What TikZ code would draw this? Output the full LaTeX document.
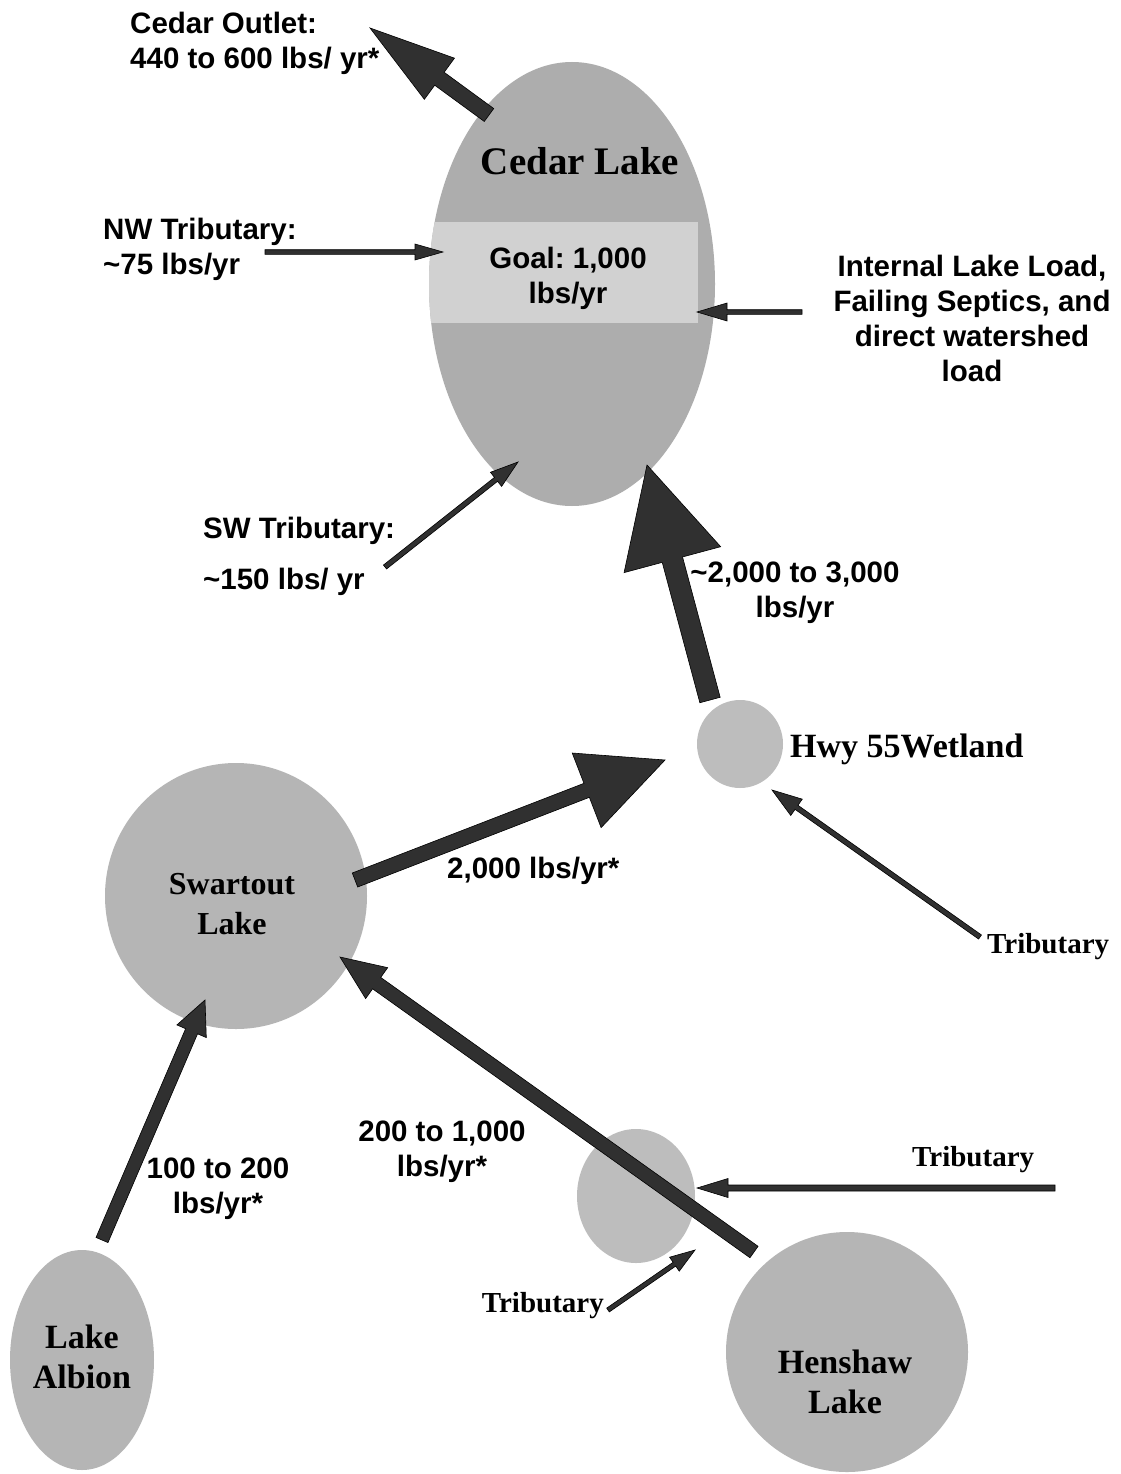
\documentclass[tikz,border=0pt]{standalone}
\usepackage{fontspec}
\setmainfont{Liberation Serif}
\newfontfamily\arialf{Liberation Sans}
\usetikzlibrary{calc,shapes.geometric}
\frenchspacing
\definecolor{lakegray}{gray}{0.71}
\definecolor{cedargray}{gray}{0.68}
\definecolor{bandgray}{gray}{0.82}
\definecolor{smallgray}{gray}{0.74}
\definecolor{arrowgray}{gray}{0.19}
\tikzset{
  lake/.style={ellipse, fill=lakegray, draw=none, inner sep=0pt, outer sep=0pt},
  sanslbl/.style={font=\arialf\bfseries\fontsize{29.5}{35}\selectfont, inner sep=0pt},
  seriflbl/.style={font=\bfseries\fontsize{34}{40}\selectfont, inner sep=0pt},
  triblbl/.style={font=\bfseries\fontsize{29}{35}\selectfont, inner sep=0pt},
  arrowbody/.style={fill=arrowgray, draw=black, line width=0.6pt, line join=miter},
}
% #1 tail, #2 tip, #3 half shaft width, #4 head length, #5 half head width
\newcommand{\blockarrow}[5]{%
  \coordinate (bab) at ($(#2)!#4!(#1)$);
  \filldraw[arrowbody] ($(#1)!#3!90:(#2)$) -- ($(bab)!#3!90:(#2)$) -- ($(bab)!#5!90:(#2)$) -- (#2)
     -- ($(bab)!#5!-90:(#2)$) -- ($(bab)!#3!-90:(#2)$) -- ($(#1)!#3!-90:(#2)$) -- cycle;
}
\begin{document}
\begin{tikzpicture}[x=1pt,y=-1pt]
\useasboundingbox (0,0) rectangle (1120,1474);
\fill[white] (0,0) rectangle (1120,1474);

% ---- lakes ----
\node[lake, fill=cedargray, minimum width=286pt, minimum height=444pt] (cedar) at (572,284) {};
\begin{scope}
  \clip (572,284) ellipse [x radius=143, y radius=222];
  \fill[bandgray] (420,222) rectangle (698,323);
\end{scope}
\node[lake, fill=smallgray, minimum width=86pt, minimum height=88pt] (hwy) at (740,744) {};
\node[lake, minimum width=262pt, minimum height=266pt] (swartout) at (236,896) {};
\node[lake, fill=smallgray, minimum width=118pt, minimum height=134pt] (small) at (636,1196) {};
\node[lake, minimum width=144pt, minimum height=220pt] (albion) at (82,1360) {};
\node[lake, minimum width=242pt, minimum height=240pt] (henshaw) at (847,1352) {};

% ---- lake labels ----
\node[seriflbl, font=\bfseries\fontsize{39}{45}\selectfont, anchor=base] (cedarlbl) at (580,175) {Cedar Lake};
\node[sanslbl, align=center, anchor=north] (goal) at (568,247) {Goal: 1,000\\lbs/yr};
\node[seriflbl, anchor=base west] (hwylbl) at (790,757) {Hwy 55Wetland};
\node[seriflbl, font=\bfseries\fontsize{32}{40}\selectfont, align=center, anchor=north] (swlbl) at (232,873) {Swartout\\Lake};
\node[seriflbl, align=center, anchor=north] (alblbl) at (82,1325) {Lake\\Albion};
\node[seriflbl, align=center, anchor=north] (henlbl) at (845,1350) {Henshaw\\Lake};

% ---- other labels ----
\node[sanslbl, align=left, anchor=north west] (outlbl) at (130,12) {Cedar Outlet:\\440 to 600 lbs/ yr*};
\node[sanslbl, align=left, anchor=north west] (nwlbl) at (103,218) {NW Tributary:\\\textasciitilde75 lbs/yr};
\node[sanslbl, align=center, anchor=north] (intlbl) at (972,255) {Internal Lake Load,\\Failing Septics, and\\direct watershed\\load};
\node[sanslbl, align=left, anchor=north west] (swtlbl) at (203,517) {SW Tributary:\\[16pt]\textasciitilde150 lbs/ yr};
\node[sanslbl, align=center, anchor=north] (biglbl) at (795,562) {\textasciitilde2,000 to 3,000\\lbs/yr};
\node[sanslbl, anchor=base west] (swhlbl) at (447,878) {2,000 lbs/yr*};
\node[sanslbl, align=center, anchor=north] (henslbl) at (442,1121) {200 to 1,000\\lbs/yr*};
\node[sanslbl, align=center, anchor=north] (alblbl2) at (218,1158) {100 to 200\\lbs/yr*};
\node[triblbl, anchor=base west] (trib1) at (987,953) {Tributary};
\node[triblbl, anchor=base west] (trib2) at (912,1166) {Tributary};
\node[triblbl, anchor=base east] (trib3) at (604,1312) {Tributary};

% ---- arrow end points ----
\coordinate (outT) at (489,115);   \coordinate (outH) at (370,28);
\coordinate (nwT) at (265,252);    \coordinate (nwH) at (443,252);
\coordinate (intT) at (802,312);   \coordinate (intH) at (697,312);
\coordinate (swT) at (385,567);    \coordinate (swH) at (518,462);
\coordinate (bigT) at (710,700);   \coordinate (bigH) at (647,465);
\coordinate (s2hT) at (355,880);   \coordinate (s2hH) at (665,760);
\coordinate (t1T) at (980,937);    \coordinate (t1H) at (772,790);
\coordinate (h2sT) at (754,1252);  \coordinate (h2sH) at (340,957);
\coordinate (a2sT) at (102,1240);  \coordinate (a2sH) at (205,1000);
\coordinate (t2T) at (1055,1188);  \coordinate (t2H) at (697,1188);
\coordinate (t3T) at (608,1310);   \coordinate (t3H) at (695,1250);

% ---- arrows ----
\blockarrow{outT}{outH}{8pt}{86pt}{25.5pt}
\blockarrow{nwT}{nwH}{2.3pt}{28pt}{8pt}
\blockarrow{intT}{intH}{2.3pt}{30pt}{9pt}
\blockarrow{swT}{swH}{2.5pt}{28pt}{9pt}
\blockarrow{bigT}{bigH}{10.5pt}{98pt}{50pt}
\blockarrow{s2hT}{s2hH}{7.5pt}{84pt}{40pt}
\blockarrow{t1T}{t1H}{2.5pt}{30pt}{10pt}
\blockarrow{h2sT}{h2sH}{7pt}{45pt}{19pt}
\blockarrow{a2sT}{a2sH}{6.5pt}{34pt}{16pt}
\blockarrow{t2T}{t2H}{3pt}{31pt}{9.5pt}
\blockarrow{t3T}{t3H}{2.3pt}{25pt}{8.5pt}
\end{tikzpicture}
\end{document}
